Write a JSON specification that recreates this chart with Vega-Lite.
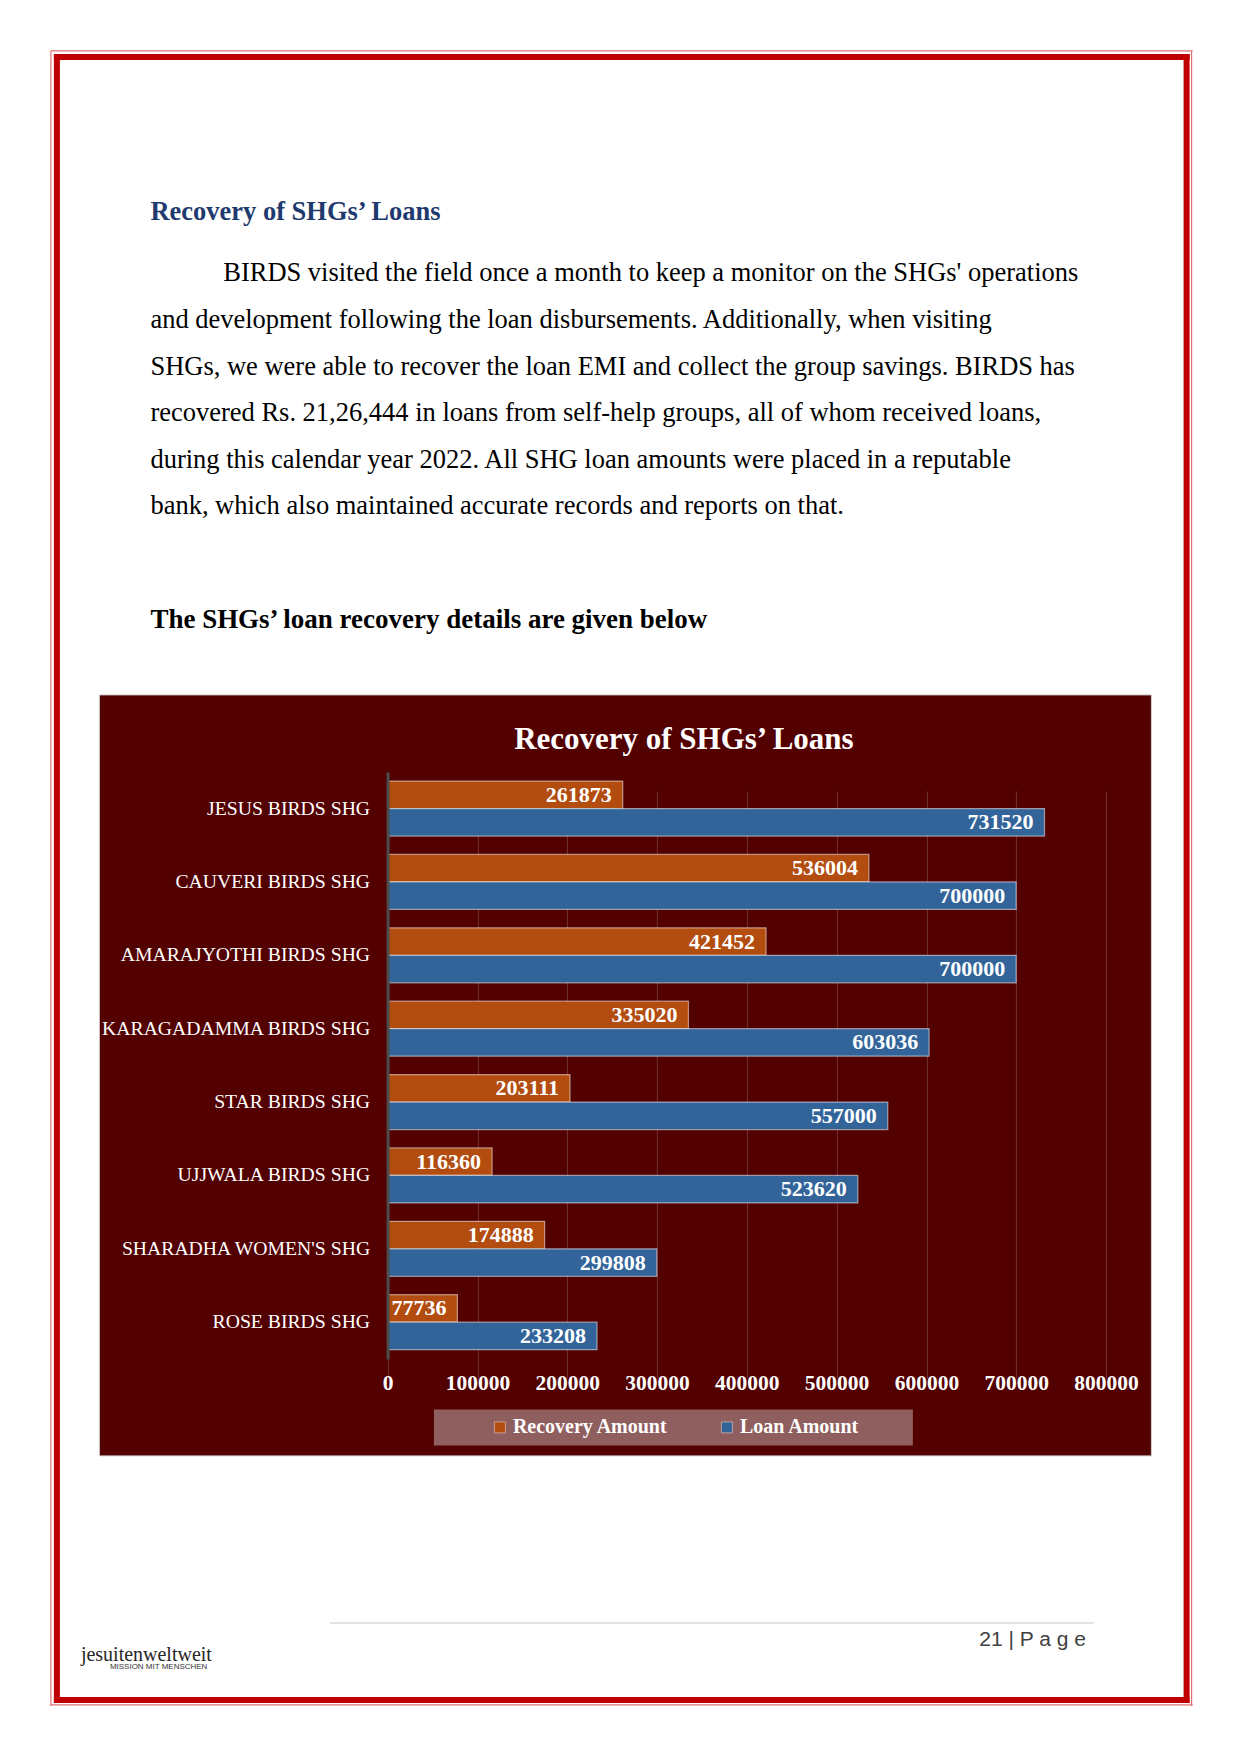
{
  "$schema": "https://vega.github.io/schema/vega-lite/v6.json",
  "background": "white",
  "padding": {"left": 50.4, "top": 50.4, "right": 0, "bottom": 0},
  "bounds": "flush",
  "center": true,
  "spacing": 637,
  "config": {"font": "Liberation Serif"},
  "vconcat": [
    {
      "width": 1137,
      "height": 1,
      "view": {"fill": null, "stroke": null},
      "title": {
        "text": "Recovery of SHGs’ Loans",
        "subtitle": [
          "\u200b\u00a0\u00a0\u00a0\u00a0\u00a0\u00a0\u00a0\u00a0\u00a0\u00a0\u00a0BIRDS visited the field once a month to keep a monitor on the SHGs' operations",
          "and development following the loan disbursements. Additionally, when visiting",
          "SHGs, we were able to recover the loan EMI and collect the group savings. BIRDS has",
          "recovered Rs. 21,26,444 in loans from self-help groups, all of whom received loans,",
          "during this calendar year 2022. All SHG loan amounts were placed in a reputable",
          "bank, which also maintained accurate records and reports on that."
        ],
        "orient": "top",
        "anchor": "start",
        "frame": "group",
        "dx": 94,
        "offset": -469.5,
        "font": "Liberation Serif",
        "fontSize": 26.5,
        "fontWeight": "bold",
        "color": "#1f3a6e",
        "subtitleFont": "Liberation Serif",
        "subtitleFontSize": 26.5,
        "subtitleColor": "#000000",
        "subtitleLineHeight": 46.6,
        "subtitlePadding": 35
      },
      "data": {"values": []},
      "layer": [
        {
          "mark": {"type": "rule"},
          "encoding": {
            "x": {
              "field": "v", "type": "quantitative",
              "scale": {"domain": [0, 1], "range": [0, 1129.7]},
              "axis": {"orient": "top", "domain": true, "domainColor": "#c00000", "domainWidth": 6, "domainCap": "square", "ticks": false, "labels": false, "grid": false, "title": null}
            },
            "y": {
              "field": "w", "type": "quantitative",
              "scale": {"domain": [0, 1], "range": [0, 1643]},
              "axis": {
                "orient": "left", "domain": true, "domainColor": "#c00000", "domainWidth": 6, "domainCap": "square", "ticks": false, "labels": false, "grid": false,
                "title": "jesuitenweltweit",
                "titleAngle": 0,
                "titleAlign": "left",
                "titleBaseline": "middle",
                "titleX": 24,
                "titleY": 1598,
                "titleFont": "Liberation Serif",
                "titleFontSize": 20,
                "titleFontWeight": "normal",
                "titleColor": "#262626"
              }
            }
          }
        },
        {
          "mark": {"type": "rule"},
          "encoding": {
            "x": {
              "field": "v", "type": "quantitative",
              "scale": {"domain": [0, 1], "range": [0, 1129.7]},
              "axis": {"orient": "bottom", "offset": 1642, "domain": true, "domainColor": "#c00000", "domainWidth": 6, "domainCap": "square", "ticks": false, "labels": false, "grid": false, "title": null}
            },
            "y": {
              "field": "w", "type": "quantitative",
              "scale": {"domain": [0, 1], "range": [0, 1643]},
              "axis": {
                "orient": "right", "offset": -7.3, "domain": true, "domainColor": "#c00000", "domainWidth": 6, "domainCap": "square", "ticks": false, "labels": false, "grid": false,
                "title": "MISSION MIT MENSCHEN",
                "titleAngle": 0,
                "titleAlign": "left",
                "titleBaseline": "middle",
                "titleX": -1076.7,
                "titleY": 1610,
                "titleFont": "Liberation Sans",
                "titleFontSize": 8,
                "titleFontWeight": "normal",
                "titleColor": "#333333"
              }
            }
          }
        },
        {
          "mark": {"type": "rule"},
          "encoding": {
            "x": {
              "field": "v", "type": "quantitative",
              "scale": {"domain": [0, 1], "range": [-6, 1135.7]},
              "axis": {"orient": "top", "offset": 6, "domain": true, "domainColor": "#e07070", "domainWidth": 1.2, "ticks": false, "labels": false, "grid": false, "title": null}
            },
            "y": {
              "field": "w", "type": "quantitative",
              "scale": {"domain": [0, 1], "range": [-6, 1649]},
              "axis": {"orient": "left", "offset": 6, "domain": true, "domainColor": "#e07070", "domainWidth": 1.2, "ticks": false, "labels": false, "grid": false, "title": null}
            }
          }
        },
        {
          "mark": {"type": "rule"},
          "encoding": {
            "x": {
              "field": "v", "type": "quantitative",
              "scale": {"domain": [0, 1], "range": [-6, 1135.7]},
              "axis": {"orient": "bottom", "offset": 1647, "domain": true, "domainColor": "#e07070", "domainWidth": 1.2, "ticks": false, "labels": false, "grid": false, "title": null}
            },
            "y": {
              "field": "w", "type": "quantitative",
              "scale": {"domain": [0, 1], "range": [-6, 1649]},
              "axis": {"orient": "right", "offset": -2.3, "domain": true, "domainColor": "#e07070", "domainWidth": 1.2, "ticks": false, "labels": false, "grid": false, "title": null}
            }
          }
        },
        {
          "mark": {"type": "rule"},
          "encoding": {
            "x": {
              "field": "v", "type": "quantitative",
              "scale": {"domain": [0, 1], "range": [273, 1037]},
              "axis": {
                "orient": "bottom",
                "offset": 1565,
                "domain": true,
                "domainColor": "#d9d9d9",
                "domainWidth": 1.5,
                "ticks": false,
                "labels": false,
                "grid": false,
                "title": "21 | P a g e",
                "titleX": 1029,
                "titleAlign": "right",
                "titleFont": "Liberation Sans",
                "titleFontSize": 21,
                "titleFontWeight": "normal",
                "titleColor": "#404040",
                "titlePadding": 6
              }
            }
          }
        }
      ],
      "resolve": {"scale": {"x": "independent", "y": "independent"}, "axis": {"x": "independent", "y": "independent"}}
    },
    {
      "width": 1052,
      "height": 761,
      "view": {"fill": "#520000", "stroke": "#cfcfcf", "strokeWidth": 1},
      "title": {
        "text": "The SHGs’ loan recovery details are given below",
        "orient": "top",
        "anchor": "start",
        "frame": "group",
        "dx": 51.5,
        "offset": 60,
        "font": "Liberation Serif",
        "fontSize": 27,
        "fontWeight": "bold",
        "color": "#000000"
      },
      "data": {
        "values": [
          {"shg": "JESUS BIRDS SHG", "series": "Recovery Amount", "amount": 261873},
          {"shg": "JESUS BIRDS SHG", "series": "Loan Amount", "amount": 731520},
          {"shg": "CAUVERI BIRDS SHG", "series": "Recovery Amount", "amount": 536004},
          {"shg": "CAUVERI BIRDS SHG", "series": "Loan Amount", "amount": 700000},
          {"shg": "AMARAJYOTHI BIRDS SHG", "series": "Recovery Amount", "amount": 421452},
          {"shg": "AMARAJYOTHI BIRDS SHG", "series": "Loan Amount", "amount": 700000},
          {"shg": "KARAGADAMMA BIRDS SHG", "series": "Recovery Amount", "amount": 335020},
          {"shg": "KARAGADAMMA BIRDS SHG", "series": "Loan Amount", "amount": 603036},
          {"shg": "STAR BIRDS SHG", "series": "Recovery Amount", "amount": 203111},
          {"shg": "STAR BIRDS SHG", "series": "Loan Amount", "amount": 557000},
          {"shg": "UJJWALA BIRDS SHG", "series": "Recovery Amount", "amount": 116360},
          {"shg": "UJJWALA BIRDS SHG", "series": "Loan Amount", "amount": 523620},
          {"shg": "SHARADHA WOMEN'S SHG", "series": "Recovery Amount", "amount": 174888},
          {"shg": "SHARADHA WOMEN'S SHG", "series": "Loan Amount", "amount": 299808},
          {"shg": "ROSE BIRDS SHG", "series": "Recovery Amount", "amount": 77736},
          {"shg": "ROSE BIRDS SHG", "series": "Loan Amount", "amount": 233208}
        ]
      },
      "layer": [
        {
          "mark": {"type": "bar", "stroke": "#ffffff", "strokeOpacity": 0.5, "strokeWidth": 1.2},
          "encoding": {
            "y": {
              "field": "shg",
              "type": "nominal",
              "sort": null,
              "scale": {"range": [77.5, 664.5], "paddingInner": 0.25, "paddingOuter": 0.125},
              "axis": {
                "orient": "left",
                "offset": -288.7,
                "domain": true,
                "domainColor": "#4d4d4d",
                "domainWidth": 3,
                "ticks": false,
                "labelPadding": 18,
                "labelFont": "Liberation Serif",
                "labelFontSize": 19.7,
                "labelColor": "#ffffff",
                "labelLimit": 400,
                "grid": false,
                "title": null,
                "zindex": 1
              }
            },
            "yOffset": {
              "field": "series",
              "type": "nominal",
              "sort": ["Recovery Amount", "Loan Amount"],
              "scale": {"paddingInner": 0, "paddingOuter": 0}
            },
            "x": {
              "field": "amount",
              "type": "quantitative",
              "scale": {"domain": [0, 800000], "range": [288.7, 1007.1], "nice": false},
              "axis": {
                "orient": "bottom",
                "offset": -96.5,
                "values": [0, 100000, 200000, 300000, 400000, 500000, 600000, 700000, 800000],
                "format": "d",
                "domain": false,
                "ticks": false,
                "labelPadding": 14,
                "labelFont": "Liberation Serif",
                "labelFontSize": 21.5,
                "labelFontWeight": "bold",
                "labelColor": "#ffffff",
                "labelFlush": false,
                "grid": true,
                "gridColor": "#ffffff",
                "gridOpacity": 0.2,
                "gridWidth": 1,
                "title": null
              }
            },
            "color": {
              "field": "series",
              "type": "nominal",
              "scale": {"domain": ["Recovery Amount", "Loan Amount"], "range": ["#b24c0f", "#32649a"]},
              "legend": {
                "orient": "none",
                "legendX": 377.5,
                "legendY": 1353,
                "direction": "horizontal",
                "columns": 2,
                "columnPadding": 49,
                "title": " ",
                "titleOrient": "left",
                "titlePadding": 48,
                "titleFontSize": 20,
                "fillColor": "#8f5e5e",
                "padding": 8,
                "symbolType": "square",
                "symbolSize": 121,
                "symbolStrokeColor": "#d9b0a8",
                "symbolStrokeWidth": 0.8,
                "labelFont": "Liberation Serif",
                "labelFontSize": 20,
                "labelFontWeight": "bold",
                "labelColor": "#ffffff",
                "labelOffset": 3,
                "labelLimit": 400,
                "labelExpr": "datum.label == 'Loan Amount' ? datum.label + '\u00a0\u00a0\u00a0\u00a0\u00a0\u00a0\u00a0\u00a0\u00a0\u200b' : datum.label"
              }
            }
          }
        },
        {
          "mark": {
            "type": "text",
            "align": "right",
            "baseline": "middle",
            "dx": -11,
            "font": "Liberation Serif",
            "fontSize": 22,
            "fontWeight": "bold",
            "color": "#ffffff"
          },
          "encoding": {
            "y": {"field": "shg", "type": "nominal", "sort": null},
            "yOffset": {"field": "series", "type": "nominal", "sort": ["Recovery Amount", "Loan Amount"]},
            "x": {
              "field": "amount",
              "type": "quantitative",
              "axis": {
                "orient": "top",
                "domain": false,
                "ticks": false,
                "labels": false,
                "grid": false,
                "title": "Recovery of SHGs’ Loans",
                "titleFont": "Liberation Serif",
                "titleFontSize": 31,
                "titleFontWeight": "bold",
                "titleColor": "#ffffff",
                "titleX": 584.5,
                "titleY": 45,
                "titleAlign": "center",
                "titleBaseline": "middle"
              }
            },
            "text": {"field": "amount", "type": "quantitative", "format": "d"}
          }
        }
      ],
      "resolve": {"axis": {"x": "independent"}}
    }
  ]
}
